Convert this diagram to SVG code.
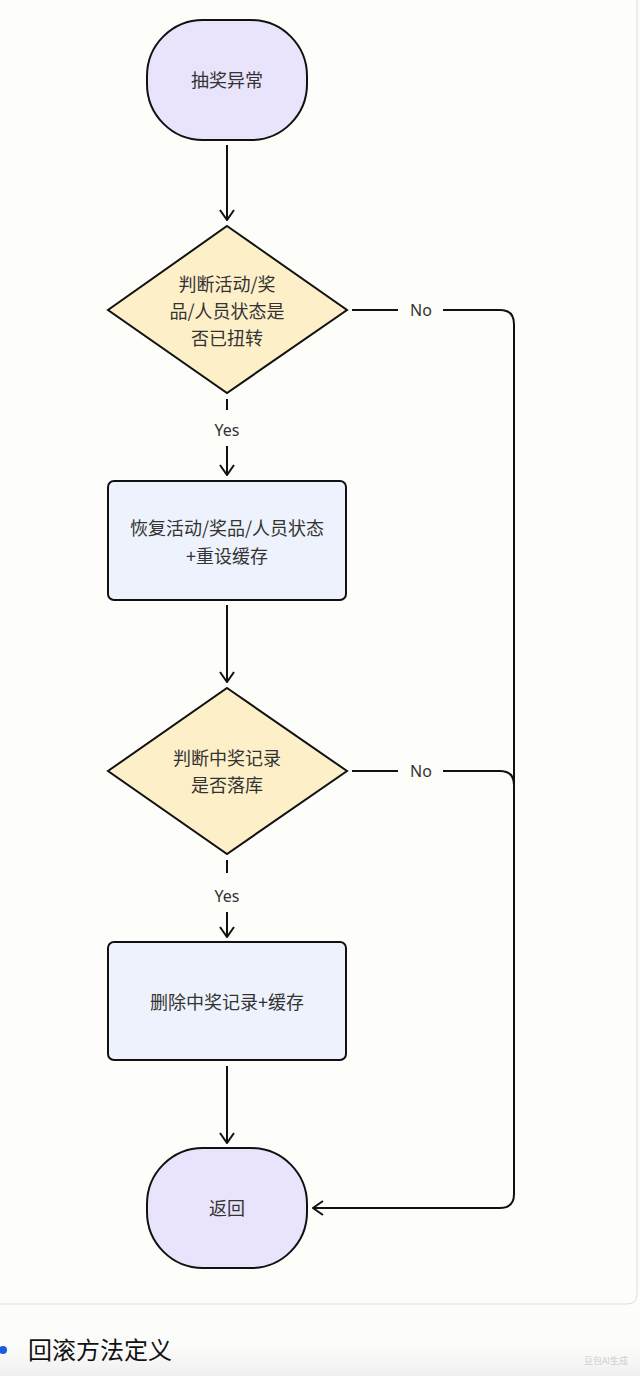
<svg xmlns="http://www.w3.org/2000/svg" width="640" height="1376" viewBox="0 0 640 1376">
<defs>
<marker id="arr" viewBox="0 0 12 16" refX="11" refY="8" markerWidth="12" markerHeight="16" markerUnits="userSpaceOnUse" orient="auto">
<path d="M1,1 L11,8 L1,15" fill="none" stroke="#111" stroke-width="2"/>
</marker>
<linearGradient id="bot" x1="0" y1="1304" x2="0" y2="1376" gradientUnits="userSpaceOnUse">
<stop offset="0" stop-color="#fdfdfb"/>
<stop offset="0.6" stop-color="#fbfbfa"/>
<stop offset="1" stop-color="#f0f0f0"/>
</linearGradient>
<style>
.n{stroke:#111;stroke-width:2}
.term{fill:#e9e3fb}
.dec{fill:#fdefc8}
.proc{fill:#eef2fc}
.t{font-family:"Noto Sans CJK SC","Noto Sans",sans-serif;font-size:18px;fill:#333;text-anchor:middle}
.l{font-family:"Noto Sans","Noto Sans CJK SC",sans-serif;font-size:16px;fill:#333;text-anchor:middle}
.c{fill:none;stroke:#111;stroke-width:2}
</style>
</defs>
<rect x="0" y="0" width="640" height="1376" fill="url(#bot)"/>
<path d="M-2,-2 H637 V1294 Q637,1304 627,1304 H-2 Z" fill="#fdfdfa" stroke="#dcdcdc" stroke-width="1"/>
<g id="connectors">
<line class="c" x1="227" y1="145" x2="227" y2="220" marker-end="url(#arr)"/>
<line class="c" x1="227" y1="399" x2="227" y2="410"/>
<text class="l" x="227" y="436">Yes</text>
<line class="c" x1="227" y1="446" x2="227" y2="475" marker-end="url(#arr)"/>
<line class="c" x1="227" y1="605" x2="227" y2="682" marker-end="url(#arr)"/>
<line class="c" x1="227" y1="860" x2="227" y2="873"/>
<text class="l" x="227" y="902">Yes</text>
<line class="c" x1="227" y1="912" x2="227" y2="937" marker-end="url(#arr)"/>
<line class="c" x1="227" y1="1066" x2="227" y2="1143" marker-end="url(#arr)"/>
<line class="c" x1="352" y1="310" x2="398" y2="310"/>
<text class="l" x="421" y="316">No</text>
<path class="c" d="M443,310 H500 Q514,310 514,324 V1194 Q514,1208 500,1208 H313" marker-end="url(#arr)"/>
<line class="c" x1="352" y1="771" x2="398" y2="771"/>
<text class="l" x="421" y="777">No</text>
<path class="c" d="M443,771 H500 Q514,771 514,785"/>
</g>
<g id="start">
<rect class="n term" x="147" y="20" width="160" height="120" rx="56" ry="56"/>
<text class="t" x="227" y="87">抽奖异常</text>
</g>
<g id="decision1">
<polygon class="n dec" points="227,226 347,310 227,393 108,310"/>
<text class="t" x="227" y="291">判断活动/奖</text>
<text class="t" x="227" y="318">品/人员状态是</text>
<text class="t" x="227" y="345">否已扭转</text>
</g>
<g id="restore">
<rect class="n proc" x="108" y="481" width="238" height="119" rx="6"/>
<text class="t" x="227" y="535">恢复活动/奖品/人员状态</text>
<text class="t" x="227" y="563">+重设缓存</text>
</g>
<g id="decision2">
<polygon class="n dec" points="227,688 347,771 227,854 108,771"/>
<text class="t" x="227" y="765">判断中奖记录</text>
<text class="t" x="227" y="792">是否落库</text>
</g>
<g id="delete">
<rect class="n proc" x="108" y="942" width="238" height="118" rx="6"/>
<text class="t" x="227" y="1009">删除中奖记录+缓存</text>
</g>
<g id="return">
<rect class="n term" x="147" y="1148" width="160" height="120" rx="56" ry="56"/>
<text class="t" x="227" y="1215">返回</text>
</g>
<circle cx="3" cy="1350" r="4" fill="#1f5be0"/>
<text x="28" y="1359" font-family="Noto Sans CJK SC, sans-serif" font-size="24" fill="#111">回滚方法定义</text>
<text x="628" y="1364" font-family="Noto Sans CJK SC, sans-serif" font-size="9" fill="#cfcfcf" text-anchor="end">豆包AI生成</text>
</svg>
